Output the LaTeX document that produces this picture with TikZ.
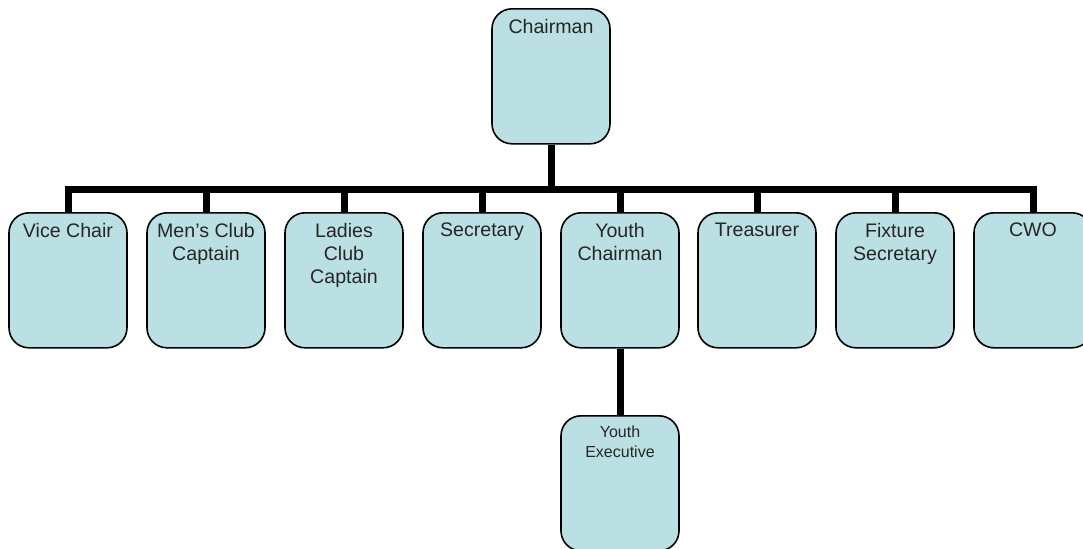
\documentclass[tikz,border=0pt]{standalone}
\usepackage{fontspec}
\setmainfont{Liberation Sans}
\definecolor{boxfill}{RGB}{187,224,227}
\newcommand{\boxtext}[1]{\parbox[t][57pt][t]{56pt}{\centering #1}}
\begin{document}
\begin{tikzpicture}[x=0.5pt, y=-0.5pt, line join=miter,
		post/.style={draw=black, line width=0.8pt, fill=boxfill, rounded corners=10pt,
			inner xsep=1.5pt, inner ysep=5.25pt, anchor=north, text=black!85,
			font=\fontsize{9.8}{11.5}\selectfont},
		smallpost/.style={post, font=\fontsize{8}{9.7}\selectfont},
		link/.style={line width=3.5pt}]
		\useasboundingbox (0,0) rectangle (1083,548);
		%\draw[help lines] (0,0) grid[step=50] (1083,548);
		\node[post] (chair) at (551,8) {\boxtext{Chairman}};
		\coordinate (bus) at (551,189);
		\node[post] (vice) at (68,212) {\boxtext{Vice Chair}};
		\node[post] (mens) at (206,212) {\boxtext{Men’s Club\\Captain}};
		\node[post] (ladies) at (344,212) {\boxtext{Ladies\\Club\\Captain}};
		\node[post] (sec) at (482,212) {\boxtext{Secretary}};
		\node[post] (youth) at (620,212) {\boxtext{Youth\\Chairman}};
		\node[post] (treas) at (757,212) {\boxtext{Treasurer}};
		\node[post] (fix) at (895,212) {\boxtext{Fixture\\Secretary}};
		\node[post] (cwo) at (1033,212) {\boxtext{CWO}};
		\node[smallpost] (yexec) at (620,415) {\boxtext{Youth\\Executive}};
		\draw[link] (chair.south) -- (bus);
		\draw[link] (vice.north) |- (bus) -| (cwo.north);
		\foreach \p in {mens,ladies,sec,youth,treas,fix}
			\draw[link] (\p.north) -- (\p.north |- bus);
		\draw[link] (youth.south) -- (yexec.north);
	\end{tikzpicture}
\end{document}
